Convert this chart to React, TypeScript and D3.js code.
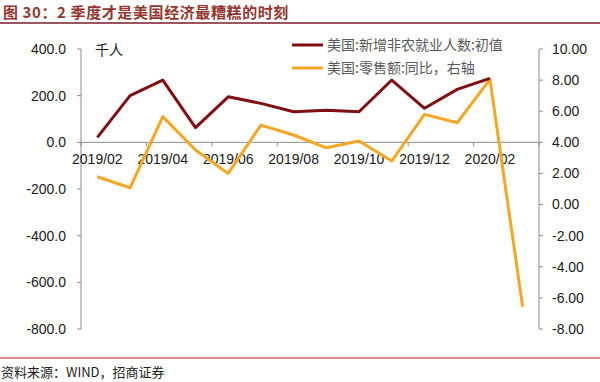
import React from 'react';
import * as d3 from 'd3';

const categories = ['2019/02','2019/03','2019/04','2019/05','2019/06','2019/07','2019/08','2019/09','2019/10','2019/11','2019/12','2020/01','2020/02','2020/03'];
const nfpValues: (number | null)[] = [21, 200, 267, 63, 195, 167, 131, 138, 131, 267, 146, 227, 274, null];
const retailValues: number[] = [1.79, 1.08, 5.65, 3.51, 2.0, 5.11, 4.47, 3.65, 4.08, 2.8, 5.8, 5.26, 8.05, -6.57];
const leftTicks = [400, 200, 0, -200, -400, -600, -800];
const rightTicks = [10, 8, 6, 4, 2, 0, -2, -4, -6, -8];
const titleText = '图 30：2 季度才是美国经济最糟糕的时刻';
const sourceText = '资料来源：WIND，招商证券';
const unitText = '千人';
const legendNames = ['美国:新增非农就业人数:初值', '美国:零售额:同比，右轴'];

const W = 600, H = 382;
const X0 = 81, X1 = 539, YT = 49, YB = 329;
const RED = '#7f0f14';
const ORANGE = '#f5a623';
const AXIS = '#8c8c8c';
const SANS = '"Liberation Sans", Arial, sans-serif';
const CJK = '"Noto Sans CJK SC", sans-serif';

export default function App() {
  const x = d3.scaleBand<string>().domain(categories).range([X0, X1]).padding(0);
  const cx = (c: string) => (x(c) as number) + x.bandwidth() / 2;
  const yL = d3.scaleLinear().domain([-800, 400]).range([YB, YT]);
  const yR = d3.scaleLinear().domain([-8, 10]).range([YB, YT]);
  const zeroY = yL(0);

  const nfpLine = d3.line<number | null>()
    .defined((d) => d !== null)
    .x((_, i) => cx(categories[i]))
    .y((d) => yL(d as number));
  const retailLine = d3.line<number>()
    .x((_, i) => cx(categories[i]))
    .y((d) => yR(d));

  const boundaryTicks = d3.range(0, categories.length + 1, 2).map((i) => X0 + i * x.bandwidth());

  return (
    <svg width={W} height={H} style={{ position: 'absolute', left: 0, top: 0, background: '#fff' }}>
      <rect x={0} y={0} width={W} height={H} fill="#fff" />
      {/* Title */}
      <text x={3} y={18} fontFamily={CJK} fontWeight={700} fontSize={15} fill="#94362f" letterSpacing={0.6}>{titleText}</text>
      <line x1={0} x2={W} y1={23} y2={23} stroke="#9b5560" strokeWidth={2} />

      {/* Left axis */}
      <line x1={X0} x2={X0} y1={YT} y2={YB} stroke={AXIS} strokeWidth={1} />
      {leftTicks.map((t) => (
        <g key={'l' + t}>
          <line x1={X0 - 4} x2={X0} y1={yL(t)} y2={yL(t)} stroke={AXIS} />
          <text x={66} y={yL(t)} dy="0.35em" textAnchor="end" fontFamily={SANS} fontSize={14} fill="#1a1a1a">{t.toFixed(1)}</text>
        </g>
      ))}

      {/* Right axis */}
      <line x1={X1} x2={X1} y1={YT} y2={YB} stroke={AXIS} strokeWidth={1} />
      {rightTicks.map((t) => (
        <g key={'r' + t}>
          <line x1={X1} x2={X1 + 4} y1={yR(t)} y2={yR(t)} stroke={AXIS} />
          <text x={552} y={yR(t)} dy="0.35em" textAnchor="start" fontFamily={SANS} fontSize={14} fill="#1a1a1a">{t.toFixed(2)}</text>
        </g>
      ))}

      {/* X axis at zero */}
      <line x1={X0} x2={X1} y1={zeroY} y2={zeroY} stroke={AXIS} strokeWidth={1} />
      {boundaryTicks.map((bx, i) => (
        <line key={'xt' + i} x1={bx} x2={bx} y1={zeroY} y2={zeroY + 4} stroke={AXIS} />
      ))}
      {categories.map((c, i) => i % 2 === 0 ? (
        <text key={'xl' + c} x={cx(c)} y={zeroY + 22} textAnchor="middle" fontFamily={SANS} fontSize={14} fill="#1a1a1a">{c}</text>
      ) : null)}

      {/* Unit */}
      <text x={95} y={55} fontFamily={CJK} fontSize={14} fill="#1a1a1a">{unitText}</text>

      {/* Lines */}
      <path d={retailLine(retailValues) || ''} fill="none" stroke={ORANGE} strokeWidth={3} strokeLinejoin="round" />
      <path d={nfpLine(nfpValues) || ''} fill="none" stroke={RED} strokeWidth={3} strokeLinejoin="round" />

      {/* Legend */}
      {[RED, ORANGE].map((col, i) => (
        <g key={'lg' + i}>
          <line x1={292} x2={323} y1={45 + i * 23} y2={45 + i * 23} stroke={col} strokeWidth={3} />
          <text x={327} y={45 + i * 23} dy="0.35em" fontFamily={CJK} fontSize={14} fill="#595959">{legendNames[i]}</text>
        </g>
      ))}

      {/* Footer */}
      <line x1={0} x2={W} y1={358} y2={358} stroke="#c0141e" strokeWidth={1} />
      <text x={1} y={372} dy="0.35em" fontFamily={CJK} fontSize={13} fill="#222">{sourceText}</text>
    </svg>
  );
}
